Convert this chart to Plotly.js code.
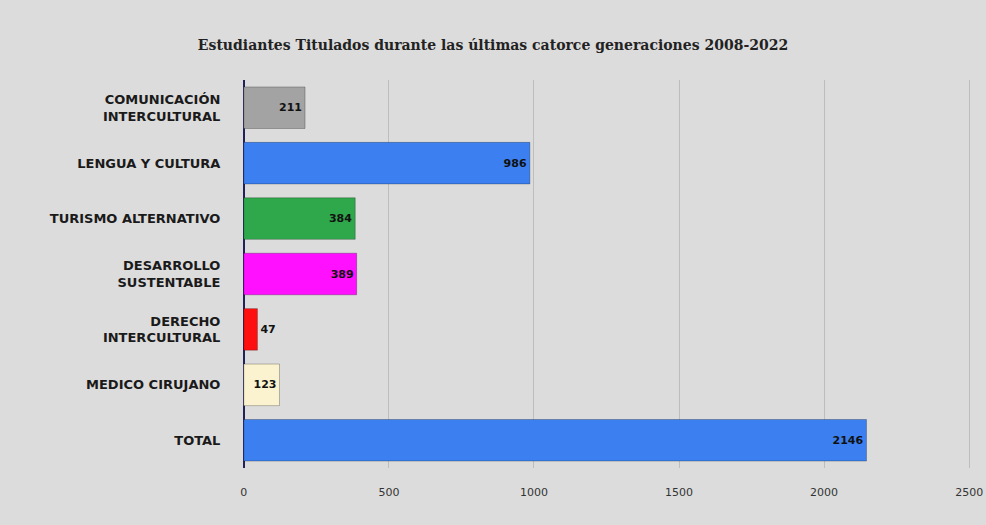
<!DOCTYPE html>
<html>
<head>
<meta charset="utf-8">
<script src="https://cdn.plot.ly/plotly-3.0.1.min.js"></script>
<style>html,body{margin:0;padding:0;background:#dcdcdc;}#chart{width:986px;height:525px;}</style>
</head>
<body>
<div id="chart"></div>
<script>
const categories = [
  "COMUNICACIÓN<br>INTERCULTURAL",
  "LENGUA Y CULTURA",
  "TURISMO ALTERNATIVO",
  "DESARROLLO<br>SUSTENTABLE",
  "DERECHO<br>INTERCULTURAL",
  "MEDICO CIRUJANO",
  "TOTAL"
];
const values = [211, 986, 384, 389, 47, 123, 2146];
const barColors = ["#a3a3a3", "#3b7ff0", "#2fa84c", "#ff10ff", "#ff1010", "#fbf3cf", "#3b7ff0"];
const textPositions = ["inside", "inside", "inside", "inside", "outside", "inside", "inside"];
const xTicks = [0, 500, 1000, 1500, 2000, 2500];
const titleText = "Estudiantes Titulados durante las últimas catorce generaciones 2008-2022";

const trace = {
  type: "bar",
  orientation: "h",
  y: categories,
  x: values,
  text: values.map(String),
  textposition: textPositions,
  insidetextanchor: "end",
  constraintext: "none",
  cliponaxis: false,
  textfont: {family: "DejaVu Sans, Arial, sans-serif", size: 11, color: "#111111", weight: "bold"},
  marker: {color: barColors, line: {color: "rgba(0,0,0,0.25)", width: 1}},
  hoverinfo: "skip"
};

const layout = {
  width: 986, height: 525,
  paper_bgcolor: "#dcdcdc",
  plot_bgcolor: "#dcdcdc",
  margin: {l: 238, r: 11, t: 80, b: 57},
  bargap: 0.25,
  showlegend: false,
  title: {
    text: "<b>" + titleText + "</b>",
    x: 0.5, xanchor: "center", y: 0.915, yanchor: "middle",
    font: {family: "DejaVu Serif, serif", size: 14, color: "#222222"}
  },
  xaxis: {
    range: [-20, 2520],
    tickvals: xTicks,
    ticktext: xTicks.map(String),
    showgrid: true,
    gridcolor: "#bdbdbd",
    gridwidth: 1,
    zeroline: true,
    zerolinecolor: "#22225a",
    zerolinewidth: 2,
    ticks: "outside",
    ticklen: 14,
    tickcolor: "rgba(0,0,0,0)",
    tickfont: {family: "DejaVu Sans, Arial, sans-serif", size: 11, color: "#333333"},
    showline: false,
    fixedrange: true
  },
  yaxis: {
    autorange: "reversed",
    type: "category",
    showgrid: false,
    ticks: "outside",
    ticklen: 14,
    tickcolor: "rgba(0,0,0,0)",
    tickfont: {family: "DejaVu Sans, Arial, sans-serif", size: 13, color: "#1a1a1a", weight: "bold"},
    showline: false,
    fixedrange: true
  }
};

Plotly.newPlot("chart", [trace], layout, {displayModeBar: false, staticPlot: true});
</script>
</body>
</html>
